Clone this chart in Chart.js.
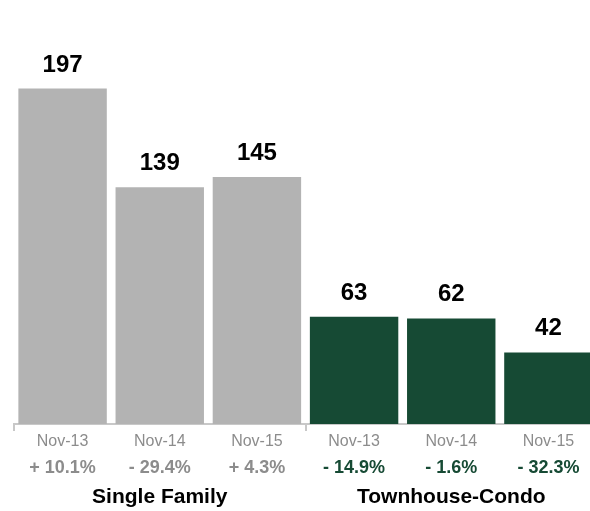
<!DOCTYPE html>
<html>
<head>
<meta charset="utf-8">
<script src="https://cdn.jsdelivr.net/npm/chart.js@4.4.1/dist/chart.umd.min.js"></script>
<style>
  html, body { margin: 0; padding: 0; background: #fff; overflow: hidden; }
  #wrap { width: 600px; height: 511px; }
</style>
</head>
<body>
<div id="wrap"><canvas id="chart" width="600" height="511"></canvas></div>
<script>
// November sales counts, three years per property type
const periods = ["Nov-13", "Nov-14", "Nov-15", "Nov-13", "Nov-14", "Nov-15"];
const sales = [197, 139, 145, 63, 62, 42];
const changes = ["+ 10.1%", "- 29.4%", "+ 4.3%", "- 14.9%", "- 1.6%", "- 32.3%"];
const groups = ["", "Single Family", "", "", "Townhouse-Condo", ""];

const GRAY = "#b3b3b3";
const GREEN = "#164a34";
const FONT = "'Liberation Sans', Arial, Helvetica, sans-serif";

const barColors = sales.map((v, i) => (i < 3 ? GRAY : GREEN));

// write each bar's value just above it
const valueLabels = {
  id: "valueLabels",
  afterDatasetsDraw(chart) {
    const { ctx } = chart;
    const meta = chart.getDatasetMeta(0);
    ctx.save();
    ctx.font = "bold 24px " + FONT;
    ctx.fillStyle = "#000";
    ctx.textAlign = "center";
    ctx.textBaseline = "alphabetic";
    meta.data.forEach((bar, i) => {
      ctx.fillText(String(sales[i]), bar.x, bar.y - 17);
    });
    ctx.restore();
  },
};

new Chart(document.getElementById("chart"), {
  type: "bar",
  data: {
    labels: periods,
    datasets: [
      {
        data: sales,
        backgroundColor: barColors,
        borderWidth: 0,
        categoryPercentage: 1,
        barPercentage: 0.91,
      },
    ],
  },
  options: {
    responsive: false,
    devicePixelRatio: 1,
    animation: false,
    layout: { padding: { left: 14, right: 3, top: 0, bottom: 0 } },
    plugins: {
      legend: { display: false },
      tooltip: { enabled: false },
    },
    scales: {
      y: { display: false, min: 0, max: 249 },
      x: {
        position: "bottom",
        border: { display: true, color: "#c8c8c8", width: 2 },
        grid: {
          offset: true,
          drawOnChartArea: false,
          tickLength: 7,
          lineWidth: 2,
          color: (c) => (c.index === 0 || c.index === 3 ? "#c8c8c8" : "rgba(0,0,0,0)"),
        },
        ticks: {
          autoSkip: false,
          maxRotation: 0,
          padding: 3,
          color: "#8c8c8c",
          font: { family: FONT, size: 16, lineHeight: 1 },
        },
      },
      x2: {
        position: "bottom",
        type: "category",
        labels: changes,
        grid: { display: false, drawTicks: false },
        border: { display: false },
        ticks: {
          autoSkip: false,
          maxRotation: 0,
          padding: 6.5,
          color: (c) => (c.index < 3 ? "#8c8c8c" : GREEN),
          font: { family: FONT, size: 18, weight: "bold", lineHeight: 1 },
        },
      },
      x3: {
        position: "bottom",
        type: "category",
        labels: groups,
        grid: { display: false, drawTicks: false },
        border: { display: false },
        ticks: {
          autoSkip: false,
          maxRotation: 0,
          padding: 3,
          color: "#000",
          font: { family: FONT, size: 21, weight: "bold", lineHeight: 1 },
        },
      },
    },
  },
  plugins: [valueLabels],
});
</script>
</body>
</html>
